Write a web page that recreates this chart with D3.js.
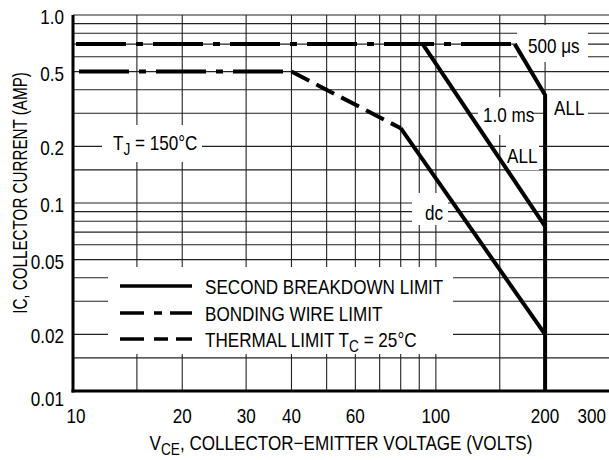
<!DOCTYPE html>
<html>
<head>
<meta charset="utf-8">
<script src="https://cdn.jsdelivr.net/npm/d3@7"></script>
<style>
  html, body { margin: 0; padding: 0; background: #fff; }
  svg text { font-family: "Liberation Sans", Arial, Helvetica, sans-serif; font-size: 20px; fill: #000; }
</style>
</head>
<body>
<svg id="chart" width="609" height="460"></svg>
<script>
// safe operating area, log-log
const xGrid = [15, 20, 30, 40, 50, 60, 70, 80, 90, 100, 150, 200];
const yGrid = [0.015, 0.02, 0.03, 0.04, 0.05, 0.06, 0.07, 0.08, 0.09, 0.1, 0.15, 0.2, 0.3, 0.4, 0.5, 0.6, 0.7, 0.8, 0.9, 1.0];
const xTicks = [10, 20, 30, 40, 60, 100, 200, 300];
const yTicks = [0.01, 0.02, 0.05, 0.1, 0.2, 0.5, 1.0];

// bonding wire limit
const bondPulseV = [10, 165];
const bondPulseI = [0.7, 0.7];
const bondDcV = [10, 40];
const bondDcI = [0.5, 0.5];
// thermal limit
const thermalV = [40, 80];
const thermalI = [0.5, 0.25];
// second breakdown
const sbDcV = [80, 200];
const sbDcI = [0.25, 0.02];
const sb1msV = [92, 200];
const sb1msI = [0.7, 0.075];
const sb500V = [165, 200, 200];
const sb500I = [0.7, 0.375, 0.01];

const svg = d3.select("#chart");
const x = d3.scaleLog().domain([10, 300]).range([73, 609]);
const y = d3.scaleLog().domain([0.01, 1]).range([391, 15]);
const SX = 0.855; // narrow type

function label(g, px, py, parts, anchor, rot, sx) {
    const t = g.append("text")
        .attr("text-anchor", anchor || "start")
        .attr("transform", `translate(${px},${py})` + (rot ? ` rotate(${rot})` : "") + ` scale(${sx || SX},1)`);
    let shift = 0;
    parts.forEach(p => {
        const sub = typeof p === "object";
        const s = t.append("tspan").text(sub ? p.sub : p);
        const want = sub ? 5 : 0;
        if (want !== shift) { s.attr("dy", want - shift); shift = want; }
        if (sub) s.style("font-size", "16px");
    });
    return t;
}

// grid
const grid = svg.append("g").attr("stroke", "#222").attr("stroke-width", 1.1);
grid.selectAll(".h").data(yGrid).join("line")
    .attr("x1", x(10)).attr("x2", x(300))
    .attr("y1", d => y(d)).attr("y2", d => y(d));
grid.selectAll(".v").data(xGrid).join("line")
    .attr("x1", d => x(d)).attr("x2", d => x(d))
    .attr("y1", y(1)).attr("y2", y(0.01));

// white boxes behind the annotations
const boxes = [
    [102, 125, 202, 162],
    [108, 267, 453, 354],
    [412, 193, 448, 225],
    [478, 97, 532, 135],
    [517, 25, 588, 62],
    [546, 97, 588, 125],
    [506, 140, 539, 170]
];
svg.append("g").selectAll("rect").data(boxes).join("rect")
    .attr("x", d => d[0]).attr("y", d => d[1])
    .attr("width", d => d[2] - d[0]).attr("height", d => d[3] - d[1])
    .attr("fill", "#fff");

// axes frame
svg.append("line").attr("x1", x(10)).attr("x2", x(10)).attr("y1", y(1)).attr("y2", y(0.01) + 1.5)
    .attr("stroke", "#000").attr("stroke-width", 3);
svg.append("line").attr("x1", x(10) - 1.5).attr("x2", x(300)).attr("y1", y(0.01)).attr("y2", y(0.01))
    .attr("stroke", "#000").attr("stroke-width", 3);

// curves
const line = d3.line().x(d => x(d[0])).y(d => y(d[1]));
const curves = svg.append("g").attr("fill", "none").attr("stroke", "#000").attr("stroke-width", 4);
curves.append("path").attr("d", line(d3.zip(bondPulseV, bondPulseI)))
    .attr("stroke-dasharray", "50,10,7,10").attr("stroke-dashoffset", -3);
curves.append("path").attr("d", line(d3.zip(bondDcV, bondDcI)))
    .attr("stroke-dasharray", "50,10,7,10").attr("stroke-dashoffset", -6);
curves.append("path").attr("d", line(d3.zip(thermalV, thermalI)))
    .attr("stroke-dasharray", "20,8");
curves.append("path").attr("d", line(d3.zip(sbDcV, sbDcI)));
curves.append("path").attr("d", line(d3.zip(sb1msV, sb1msI)));
curves.append("path").attr("d", line(d3.zip(sb500V, sb500I))).attr("stroke-linejoin", "miter");

// tick labels
const tl = svg.append("g");
yTicks.forEach((v, i) => {
    label(tl, 64, y(v) + (i === 0 ? 15 : 9), [d3.format(v < 1 ? "" : ".1f")(v)], "end");
});
xTicks.forEach((v, i) => {
    const last = i === xTicks.length - 1;
    label(tl, last ? x(v) - 3 : x(v) + (i === 0 ? 3 : 0), 423, [String(v)], last ? "end" : "middle");
});

// axis titles
label(svg, 27, 193, ["IC, COLLECTOR CURRENT (AMP)"], "middle", -90, 0.76);
label(svg, 341, 450, ["V", {sub: "CE"}, ", COLLECTOR\u2212EMITTER VOLTAGE (VOLTS)"], "middle");

// annotations
label(svg, 113, 150, ["T", {sub: "J"}, " = 150°C"]);
label(svg, 528, 53, ["500 \u03bcs"]);
label(svg, 483, 122, ["1.0 ms"]);
label(svg, 554, 115, ["ALL"]);
label(svg, 507, 163, ["ALL"]);
label(svg, 425, 220, ["dc"]);

// legend
const legY = [286, 313, 339];
const leg = svg.append("g").attr("stroke", "#000").attr("stroke-width", 3.5);
leg.append("line").attr("x1", 120).attr("x2", 192).attr("y1", legY[0]).attr("y2", legY[0]);
leg.append("line").attr("x1", 120).attr("x2", 192).attr("y1", legY[1]).attr("y2", legY[1])
    .attr("stroke-dasharray", "24,10,8,8");
leg.append("line").attr("x1", 120).attr("x2", 192).attr("y1", legY[2]).attr("y2", legY[2])
    .attr("stroke-dasharray", "24,10,14,8");
label(svg, 205, legY[0] + 8, ["SECOND BREAKDOWN LIMIT"]);
label(svg, 205, legY[1] + 8, ["BONDING WIRE LIMIT"]);
label(svg, 205, legY[2] + 8, ["THERMAL LIMIT T", {sub: "C"}, " = 25°C"]);
</script>
</body>
</html>
